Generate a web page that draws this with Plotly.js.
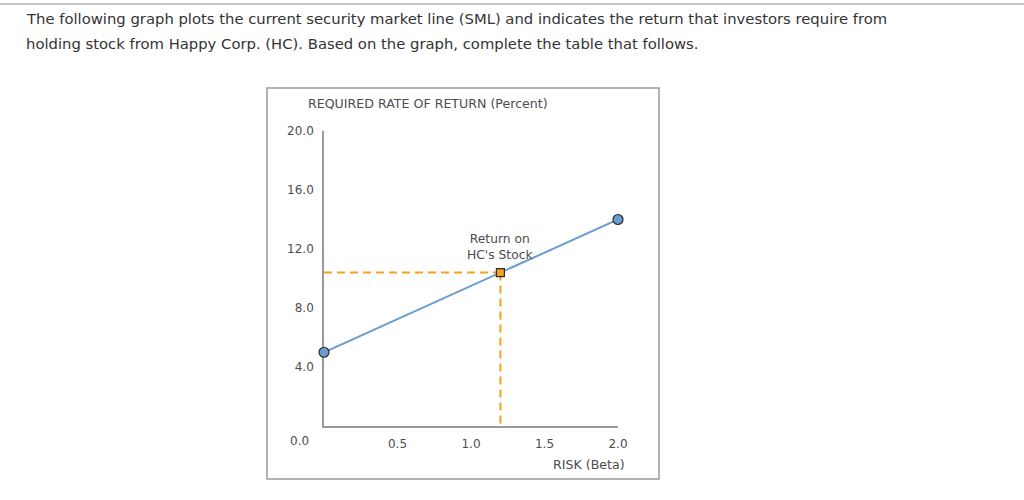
<!DOCTYPE html>
<html>
<head>
<meta charset="utf-8">
<script src="https://cdn.plot.ly/plotly-3.0.1.min.js"></script>
<style>
html,body{margin:0;padding:0;background:#fff;}
#chart{width:1024px;height:500px;}
</style>
</head>
<body>
<div id="chart"></div>
<script>
// Data
const smlBeta = [0, 2.0];
const smlReturn = [5.0, 14.0];
const hcBeta = [1.2];
const hcReturn = [10.4];
const xTickVals = [0.5, 1.0, 1.5, 2.0];
const xTickText = ["0.5", "1.0", "1.5", "2.0"];
const yTickVals = [4, 8, 12, 16, 20];
const yTickText = ["4.0", "8.0", "12.0", "16.0", "20.0"];

const W = 1024, H = 500;
const px = x => x / W;
const py = y => 1 - y / H;

const chartFont = "'DejaVu Sans', sans-serif";
const orange = "#f7a21b";
const blue = "#6a9bd1";
const txt = "#4d4d4d";

const traces = [
  {x: [0, hcBeta[0]], y: [hcReturn[0], hcReturn[0]], mode: "lines",
   line: {color: orange, width: 2, dash: "8px,5px"}, hoverinfo: "skip", showlegend: false},
  {x: [hcBeta[0], hcBeta[0]], y: [hcReturn[0], 0], mode: "lines",
   line: {color: orange, width: 2, dash: "8px,5px"}, hoverinfo: "skip", showlegend: false},
  {x: smlBeta, y: smlReturn, mode: "lines+markers",
   line: {color: blue, width: 2},
   marker: {symbol: "circle", size: 10, color: blue, line: {color: "#2b2b2b", width: 1.2}},
   showlegend: false, cliponaxis: false},
  {x: hcBeta, y: hcReturn, mode: "markers",
   marker: {symbol: "square", size: 8, color: orange, line: {color: "#2b2b2b", width: 1.2}},
   showlegend: false, cliponaxis: false}
];

const layout = {
  width: W, height: H,
  margin: {l: 0, r: 0, t: 0, b: 0},
  paper_bgcolor: "#fff", plot_bgcolor: "rgba(0,0,0,0)",
  showlegend: false,
  xaxis: {
    domain: [px(324), px(618)], range: [0, 2], anchor: "y", layer: "below traces",
    showgrid: false, zeroline: false, showline: true, linecolor: "#9a9a9a", linewidth: 1.8,
    tickvals: xTickVals, ticktext: xTickText,
    ticks: "outside", ticklen: 6, tickcolor: "rgba(0,0,0,0)",
    tickfont: {family: chartFont, size: 12, color: txt}, fixedrange: true
  },
  yaxis: {
    domain: [py(426), py(131)], range: [0, 20], anchor: "x", layer: "below traces",
    showgrid: false, zeroline: false, showline: true, linecolor: "#9a9a9a", linewidth: 1.8,
    tickvals: yTickVals, ticktext: yTickText,
    ticks: "outside", ticklen: 6, tickcolor: "rgba(0,0,0,0)",
    tickfont: {family: chartFont, size: 12, color: txt}, fixedrange: true
  },
  shapes: [
    {type: "line", xref: "paper", yref: "paper", x0: 0, x1: 1, y0: py(4), y1: py(4),
     line: {color: "#c8c8c8", width: 2}},
    {type: "rect", xref: "paper", yref: "paper", x0: px(267), x1: px(659), y0: py(479), y1: py(88),
     line: {color: "#9a9a9a", width: 1.5}}
  ],
  annotations: [
    {xref: "paper", yref: "paper", x: px(24), y: py(18), xanchor: "left", yanchor: "middle", showarrow: false,
     text: "The following graph plots the current security market line (SML) and indicates the return that investors require from",
     font: {family: "'DejaVu Sans', Verdana, sans-serif", size: 14.8, color: "#333"}},
    {xref: "paper", yref: "paper", x: px(24), y: py(44), xanchor: "left", yanchor: "middle", showarrow: false,
     text: "holding stock from Happy Corp. (HC). Based on the graph, complete the table that follows.",
     font: {family: "'DejaVu Sans', Verdana, sans-serif", size: 14.8, color: "#333"}},
    {xref: "paper", yref: "paper", x: px(306), y: py(104), xanchor: "left", yanchor: "middle", showarrow: false,
     text: "REQUIRED RATE OF RETURN (Percent)",
     font: {family: chartFont, size: 12.6, color: txt}},
    {xref: "paper", yref: "paper", x: px(627), y: py(464), xanchor: "right", yanchor: "middle", showarrow: false,
     text: "RISK (Beta)",
     font: {family: chartFont, size: 12.6, color: txt}},
    {xref: "paper", yref: "paper", x: px(299), y: py(441), xanchor: "center", yanchor: "middle", showarrow: false,
     text: "0.0",
     font: {family: chartFont, size: 12, color: txt}},
    {xref: "x", yref: "y", x: hcBeta[0], y: hcReturn[0], xanchor: "center", yanchor: "bottom", yshift: 9, showarrow: false,
     text: "Return on<br>HC's Stock", align: "center",
     font: {family: chartFont, size: 12.3, color: txt}}
  ]
};

Plotly.newPlot("chart", traces, layout, {staticPlot: true, displayModeBar: false});
</script>
</body>
</html>
